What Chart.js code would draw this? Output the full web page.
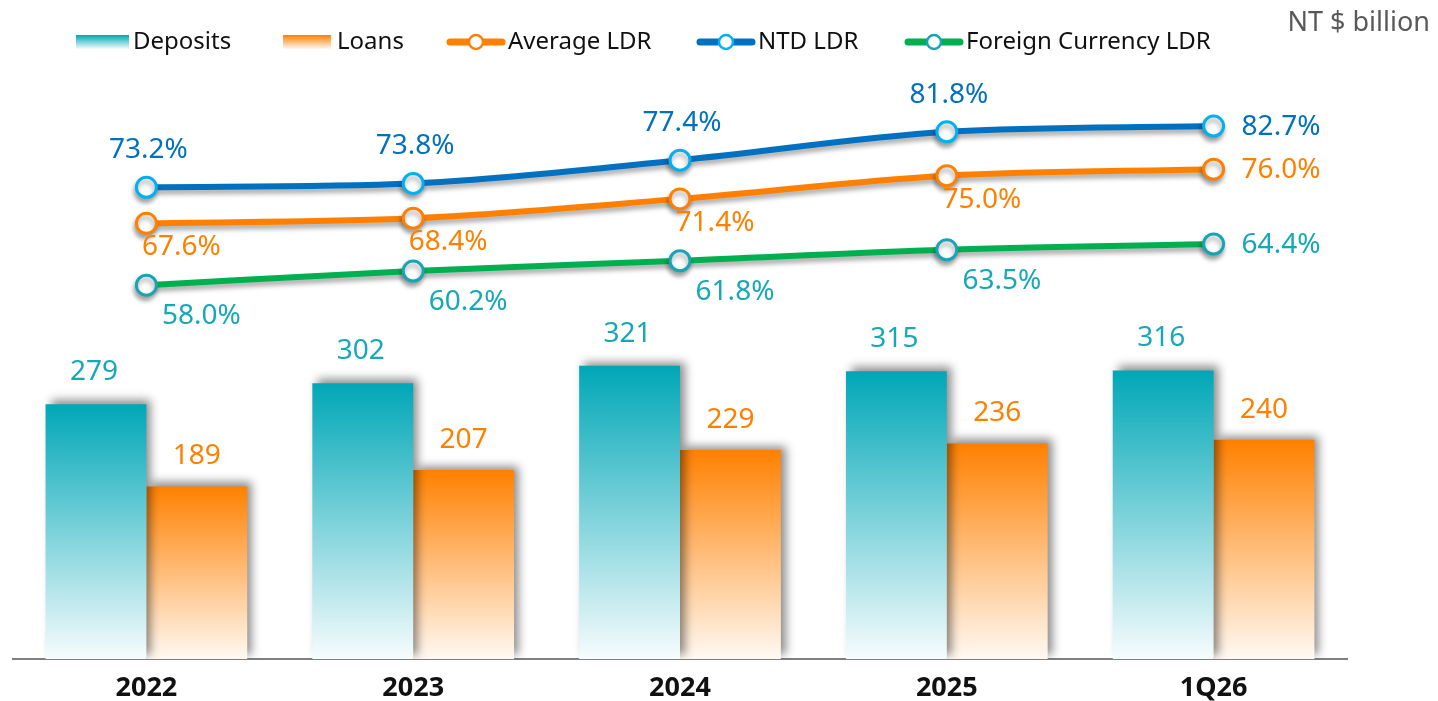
<!DOCTYPE html>
<html>
<head>
<meta charset="utf-8">
<script src="https://cdn.jsdelivr.net/npm/chart.js@4.4.1/dist/chart.umd.min.js"></script>
<style>
  body { margin: 0; background: #fff; }
  #wrap { width: 1438px; height: 701px; }
</style>
</head>
<body>
<div id="wrap"><canvas id="grafico" width="1438" height="701"></canvas></div>
<script>
// datos
var periodos = ['2022', '2023', '2024', '2025', '1Q26']
var depositos = [279, 302, 321, 315, 316]
var prestamos = [189, 207, 229, 236, 240]
var ldrPromedio = [67.6, 68.4, 71.4, 75.0, 76.0]
var ldrNTD = [73.2, 73.8, 77.4, 81.8, 82.7]
var ldrExtranjera = [58.0, 60.2, 61.8, 63.5, 64.4]
var unidad = 'NT $ billion'

Chart.defaults.font.family = "'Noto Sans', 'Open Sans', sans-serif"

function degradado(c, desde, hasta) {
	var chart = c.chart
	if (!chart.chartArea || c.type !== 'data') return desde
	var y = chart.scales.y
	var arriba = y.getPixelForValue(c.raw)
	var abajo = y.getPixelForValue(0)
	var g = chart.ctx.createLinearGradient(0, arriba, 0, abajo)
	g.addColorStop(0, desde)
	g.addColorStop(1, hasta)
	return g
}

// sombras para barras y lineas
var sombras = {
	id: 'sombras',
	beforeDatasetDraw: function(chart, args){
		var ds = chart.data.datasets[args.index]
		var ctx = chart.ctx
		ctx.save()
		if (ds.type === 'line') {
			ctx.shadowColor = 'rgba(0,0,0,0.35)'
			ctx.shadowBlur = 5
			ctx.shadowOffsetX = -1
			ctx.shadowOffsetY = 4
		} else {
			ctx.shadowColor = 'rgba(0,0,0,0.45)'
			ctx.shadowBlur = 9
			ctx.shadowOffsetX = 5
			ctx.shadowOffsetY = -4
		}
	},
	afterDatasetDraw: function(chart){
		chart.ctx.restore()
	}
}

// etiquetas de valores
var etiquetas = {
	id: 'etiquetas',
	afterDatasetsDraw: function(chart){
		var ctx = chart.ctx
		ctx.save()
		ctx.font = "28px 'Noto Sans', sans-serif"
		ctx.textBaseline = 'middle'
		chart.data.datasets.forEach(function(ds, i){
			var meta = chart.getDatasetMeta(i)
			var e = ds.etiqueta
			meta.data.forEach(function(el, j){
				var v = ds.data[j]
				var texto = ds.type === 'line' ? v.toFixed(1) + '%' : String(v)
				ctx.fillStyle = e.color
				if (ds.type === 'line' && j === ds.data.length - 1) {
					ctx.textAlign = 'left'
					ctx.fillText(texto, el.x + 28, el.y + 1)
				} else {
					ctx.textAlign = 'center'
					ctx.fillText(texto, el.x + e.dx, el.y + e.dy)
				}
			})
		})
		ctx.restore()
	}
}

// leyenda dibujada a mano
var leyenda = {
	id: 'leyenda',
	afterDraw: function(chart){
		var ctx = chart.ctx
		var xs = [76, 283, 447, 697, 905]
		var yc = 42
		ctx.save()
		ctx.font = "24px 'Noto Sans', sans-serif"
		ctx.textBaseline = 'middle'
		ctx.textAlign = 'left'
		chart.data.datasets.forEach(function(ds, i){
			var x = xs[i]
			if (ds.type === 'line') {
				ctx.strokeStyle = ds.borderColor
				ctx.lineWidth = 7
				ctx.lineCap = 'round'
				ctx.beginPath()
				ctx.moveTo(x + 3, yc)
				ctx.lineTo(x + 55, yc)
				ctx.stroke()
				ctx.beginPath()
				ctx.arc(x + 29, yc, 7, 0, Math.PI * 2)
				ctx.fillStyle = '#fff'
				ctx.fill()
				ctx.lineWidth = 2.5
				ctx.strokeStyle = ds.pointBorderColor
				ctx.stroke()
				ctx.fillStyle = '#111'
				ctx.fillText(ds.label, x + 61, yc)
			} else {
				var g = ctx.createLinearGradient(0, yc - 7, 0, yc + 7)
				g.addColorStop(0, ds.colores[0])
				g.addColorStop(1, ds.colores[1])
				ctx.fillStyle = g
				ctx.fillRect(x, yc - 7, x === 76 ? 53 : 48, 14)
				ctx.fillStyle = '#111'
				ctx.fillText(ds.label, x + (x === 76 ? 57 : 54), yc)
			}
		})
		ctx.fillStyle = '#595959'
		ctx.font = "27px 'Noto Sans', sans-serif"
		ctx.textAlign = 'right'
		ctx.fillText(unidad, 1430, 23)
		ctx.restore()
	}
}

var ctx = document.getElementById('grafico').getContext('2d')
window.miGrafico = new Chart(ctx, {
	type: 'bar',
	data: {
		labels: periodos,
		datasets: [{
			label: 'Deposits',
			data: depositos,
			colores: ['#00A7B7', '#F7FCFD'],
			backgroundColor: function(c){ return degradado(c, '#00A7B7', '#F7FCFD') },
			yAxisID: 'y',
			order: 2,
			etiqueta: {color: '#17A8B8', dx: -2, dy: -32}
		}, {
			label: 'Loans',
			data: prestamos,
			colores: ['#FF8000', '#FFF9F3'],
			backgroundColor: function(c){ return degradado(c, '#FF8000', '#FFF9F3') },
			yAxisID: 'y',
			order: 2,
			etiqueta: {color: '#FF8000', dx: 0, dy: -30}
		}, {
			type: 'line',
			label: 'Average LDR',
			data: ldrPromedio,
			borderColor: '#FF8000',
			pointBorderColor: '#FF8000',
			yAxisID: 'y1',
			order: 0,
			etiqueta: {color: '#FF8000', dx: 35, dy: 24}
		}, {
			type: 'line',
			label: 'NTD LDR',
			data: ldrNTD,
			borderColor: '#0070C0',
			pointBorderColor: '#00B0F0',
			yAxisID: 'y1',
			order: 0,
			etiqueta: {color: '#0070C0', dx: 2, dy: -37}
		}, {
			type: 'line',
			label: 'Foreign Currency LDR',
			data: ldrExtranjera,
			borderColor: '#00B050',
			pointBorderColor: '#17A5B5',
			yAxisID: 'y1',
			order: 0,
			etiqueta: {color: '#17A8B8', dx: 55, dy: 31}
		}]
	},
	options: {
		responsive: false,
		devicePixelRatio: 1,
		animation: false,
		layout: {
			padding: {top: 70, left: 10, right: 91, bottom: 0}
		},
		datasets: {
			bar: {
				barPercentage: 1,
				categoryPercentage: 0.756
			},
			line: {
				borderWidth: 6,
				cubicInterpolationMode: 'monotone',
				pointRadius: 10,
				pointHoverRadius: 10,
				pointBorderWidth: 3,
				pointBackgroundColor: '#fff',
				fill: false
			}
		},
		plugins: {
			legend: {display: false},
			tooltip: {enabled: false}
		},
		scales: {
			x: {
				grid: {display: false, drawTicks: false},
				border: {display: true, color: '#808080', width: 2},
				ticks: {
					color: '#111',
					padding: 13,
					font: {size: 27, weight: 'bold'}
				},
				afterFit: function(scale){
					scale.height = 42
				}
			},
			y: {
				display: false,
				min: 0,
				max: 645
			},
			y1: {
				display: false,
				min: 0,
				max: 91.4
			}
		}
	},
	plugins: [sombras, etiquetas, leyenda]
})
</script>
</body>
</html>
